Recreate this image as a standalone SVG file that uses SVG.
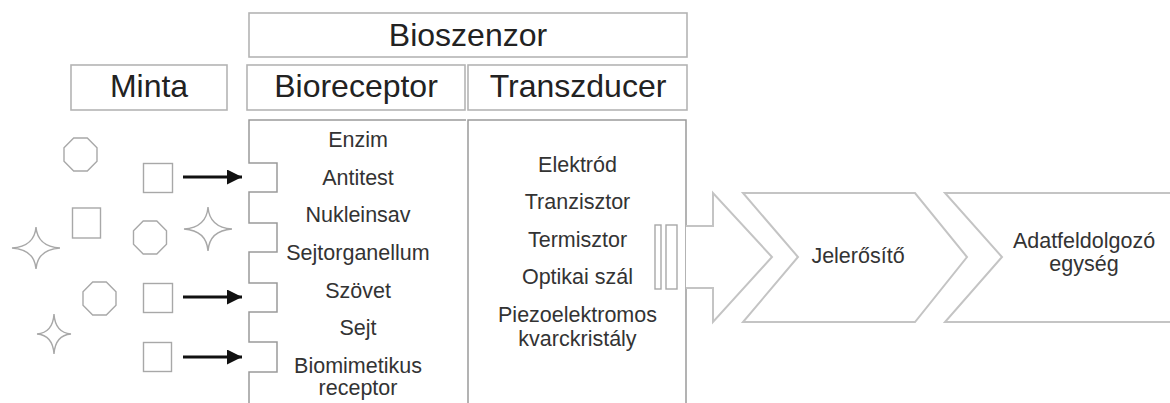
<svg xmlns="http://www.w3.org/2000/svg" width="1170" height="403" viewBox="0 0 1170 403">
  <defs>
    <style>
      .box { fill: #fff; stroke: #b4b4b4; stroke-width: 1.6; }
      .frame { fill: none; stroke: #9a9a9a; stroke-width: 1.5; }
      .shape { fill: none; stroke: #a8a8a8; stroke-width: 1.4; }
      .flow { fill: #fff; stroke: #c4c4c4; stroke-width: 2; stroke-linejoin: miter; }
      .head { font-family: "Liberation Sans", Arial, sans-serif; font-size: 32px; fill: #222; text-anchor: middle; }
      .item { font-family: "Liberation Sans", Arial, sans-serif; font-size: 21.5px; fill: #333; text-anchor: middle; }
      .ptr { stroke: #111; stroke-width: 3; fill: none; }
    </style>
    <marker id="tip" viewBox="0 0 10 10" refX="10" refY="5" markerWidth="6" markerHeight="5" markerUnits="strokeWidth" orient="auto">
      <path d="M0,0 L10,5 L0,10 Z" fill="#111"/>
    </marker>
  </defs>
  <rect width="1170" height="403" fill="#fff"/>

  <!-- header boxes -->
  <g id="bioszenzor">
    <rect class="box" x="249" y="13" width="438" height="44"/>
    <text class="head" x="468" y="46">Bioszenzor</text>
  </g>
  <g id="minta">
    <rect class="box" x="71" y="65" width="156" height="45"/>
    <text class="head" x="149" y="97">Minta</text>
  </g>
  <g id="bioreceptor">
    <rect class="box" x="247" y="65" width="218" height="45"/>
    <text class="head" x="356" y="97">Bioreceptor</text>
  </g>
  <g id="transzducer">
    <rect class="box" x="468" y="65" width="219" height="45"/>
    <text class="head" x="578" y="97">Transzducer</text>
  </g>

  <!-- sample particles -->
  <g id="sample">
    <rect class="shape" x="143.5" y="163.5" width="29" height="29"/>
    <rect class="shape" x="72.5" y="208" width="28" height="30"/>
    <rect class="shape" x="143.5" y="283.5" width="29" height="29"/>
    <rect class="shape" x="143.5" y="342.5" width="28" height="29"/>
    <polygon class="shape" points="73.7,138 87.3,138 97,147.7 97,161.3 87.3,171 73.7,171 64,161.3 64,147.7"/>
    <polygon class="shape" points="143.2,221 156.8,221 166.5,230.7 166.5,244.3 156.8,254 143.2,254 133.5,244.3 133.5,230.7"/>
    <polygon class="shape" points="92.7,282 106.3,282 116,291.7 116,305.3 106.3,315 92.7,315 83,305.3 83,291.7"/>
    <path class="shape" d="M36,227 Q37.5,246.5 60,248 Q37.5,249.5 36,269 Q34.5,249.5 12,248 Q34.5,246.5 36,227 Z"/>
    <path class="shape" d="M208,207 Q209.5,227.5 232,229 Q209.5,230.5 208,251 Q206.5,230.5 184,229 Q206.5,227.5 208,207 Z"/>
    <path class="shape" d="M54,314 Q55.2,332.7 71,334 Q55.2,335.3 54,354 Q52.8,335.3 37,334 Q52.8,332.7 54,314 Z"/>
  </g>

  <!-- bioreceptor column with binding sites -->
  <g id="receptor-column">
    <path class="frame" d="M466,120 H249 V163 H277 V192 H249 V223 H277 V252 H249 V283 H277 V312 H249 V342 H277 V372 H249 V410"/>
    <text class="item" x="358" y="147">Enzim</text>
    <text class="item" x="358" y="185">Antitest</text>
    <text class="item" x="358" y="222">Nukleinsav</text>
    <text class="item" x="358" y="260">Sejtorganellum</text>
    <text class="item" x="358" y="298">Szövet</text>
    <text class="item" x="358" y="335">Sejt</text>
    <text class="item" x="358" y="373">Biomimetikus</text>
    <text class="item" x="358" y="395">receptor</text>
  </g>

  <!-- transducer column -->
  <g id="transducer-column">
    <path class="frame" d="M468,410 V120 H686 V410"/>
    <rect class="shape" x="655" y="225" width="6" height="64"/>
    <rect class="shape" x="666" y="225" width="11" height="64"/>
    <text class="item" x="577.5" y="172">Elektród</text>
    <text class="item" x="577.5" y="209">Tranzisztor</text>
    <text class="item" x="577.5" y="247">Termisztor</text>
    <text class="item" x="577.5" y="284">Optikai szál</text>
    <text class="item" x="577.5" y="322">Piezoelektromos</text>
    <text class="item" x="577.5" y="346">kvarckristály</text>
  </g>

  <!-- signal processing chain -->
  <g id="output-arrow">
    <path class="flow" d="M686,226 H713 V193 L772,257 L713,322 V288 H686"/>
  </g>
  <g id="jelerosito">
    <path class="flow" d="M743,193 H915 L967,257 L915,322 H743 L798,257 Z"/>
    <text class="item" x="858" y="263">Jelerősítő</text>
  </g>
  <g id="adatfeldolgozo">
    <path class="flow" d="M1175,193 H945 L1002,257 L945,322 H1175"/>
    <text class="item" x="1084" y="248">Adatfeldolgozó</text>
    <text class="item" x="1084" y="271">egység</text>
  </g>

  <!-- binding arrows -->
  <g id="connectors">
    <line class="ptr" x1="183" y1="177" x2="242" y2="177" marker-end="url(#tip)"/>
    <line class="ptr" x1="183" y1="297" x2="242" y2="297" marker-end="url(#tip)"/>
    <line class="ptr" x1="183" y1="357" x2="242" y2="357" marker-end="url(#tip)"/>
  </g>
</svg>
